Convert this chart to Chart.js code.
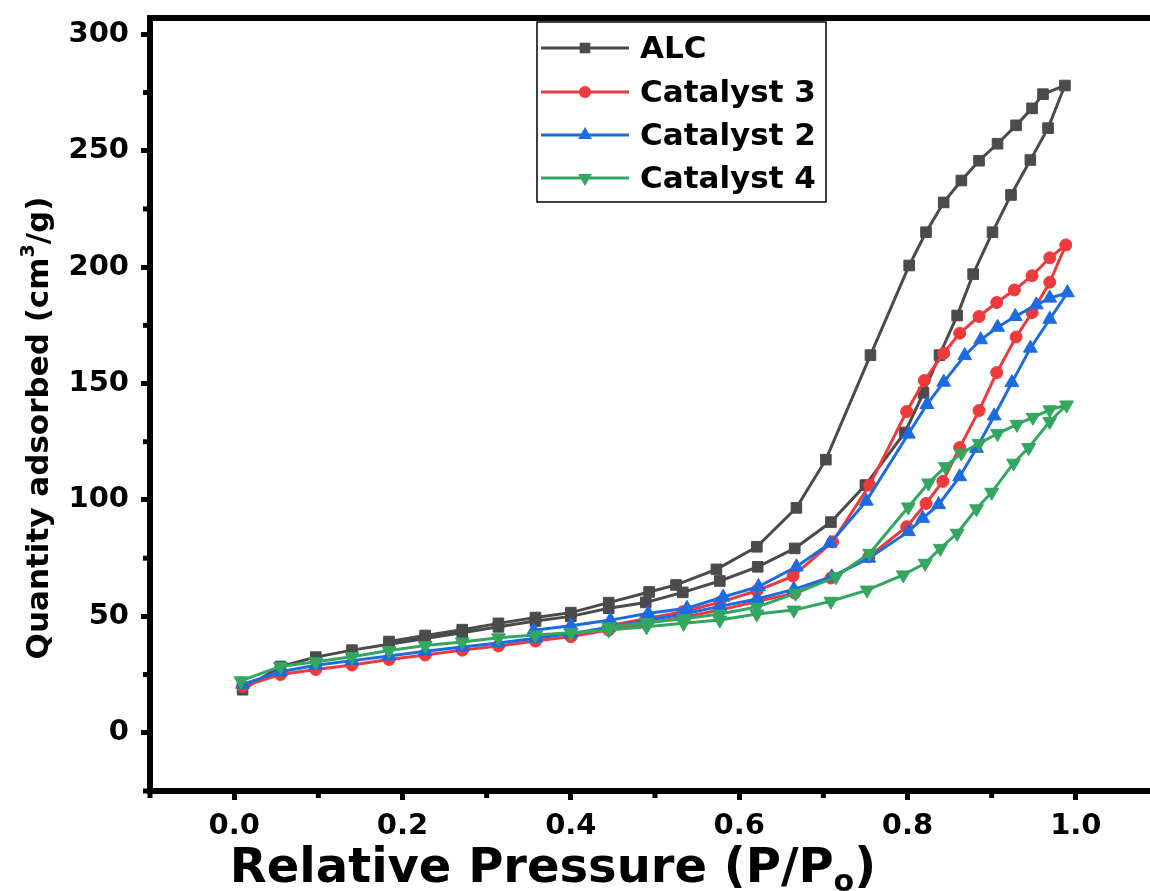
<!DOCTYPE html>
<html>
<head>
<meta charset="utf-8">
<script src="https://cdn.jsdelivr.net/npm/chart.js"></script>
<style>
html, body { margin: 0; padding: 0; background: #fff; overflow: hidden; }
#wrap { width: 1180px; height: 891px; }
</style>
</head>
<body>
<div id="wrap"><canvas id="isoChart" width="1180" height="891"></canvas></div>
<script>
// relative pressure (P/Po) and quantity adsorbed (cm3/g), adsorption then desorption
var alcP = [0.010, 0.055, 0.097, 0.140, 0.184, 0.227, 0.271, 0.314, 0.358, 0.400, 0.445, 0.489, 0.533, 0.577, 0.622, 0.666, 0.709, 0.750, 0.797, 0.819, 0.838, 0.859, 0.878, 0.901, 0.923, 0.946, 0.967, 0.987,
            0.961, 0.948, 0.929, 0.907, 0.885, 0.864, 0.843, 0.822, 0.802, 0.756, 0.703, 0.668, 0.621, 0.573, 0.525, 0.493, 0.445, 0.400, 0.358, 0.314, 0.271, 0.227, 0.184];
var alcQ = [18.5, 28.5, 32.5, 35.5, 38.0, 40.5, 43.0, 45.5, 48.0, 50.0, 53.5, 56.0, 60.3, 65.2, 71.3, 79.2, 90.5, 106.4, 129.0, 146.0, 162.2, 179.2, 197.0, 215.0, 231.0, 246.0, 259.7, 278.0,
            274.3, 268.2, 260.9, 253.0, 245.7, 237.2, 227.8, 215.0, 200.7, 162.2, 117.3, 96.6, 79.9, 70.2, 63.5, 60.5, 55.9, 51.6, 49.5, 47.0, 44.3, 41.8, 39.2];

var cat3P = [0.010, 0.055, 0.097, 0.140, 0.184, 0.227, 0.271, 0.314, 0.358, 0.400, 0.445, 0.489, 0.533, 0.577, 0.622, 0.666, 0.709, 0.754, 0.799, 0.822, 0.842, 0.862, 0.885, 0.906, 0.929, 0.948, 0.969, 0.988,
             0.969, 0.948, 0.927, 0.906, 0.885, 0.862, 0.843, 0.820, 0.799, 0.755, 0.711, 0.664, 0.621, 0.577, 0.533, 0.489, 0.445];
var cat3Q = [20.0, 25.0, 27.2, 29.1, 31.5, 33.4, 35.5, 37.3, 39.4, 41.3, 44.1, 47.0, 49.6, 52.7, 56.5, 60.0, 66.5, 75.6, 88.5, 98.5, 108.0, 122.5, 138.4, 154.7, 170.0, 180.5, 193.5, 209.5,
             204.0, 196.3, 190.2, 184.8, 178.8, 171.6, 163.0, 151.3, 138.0, 106.4, 82.0, 67.3, 61.0, 56.0, 52.0, 49.0, 46.0];

var cat2P = [0.010, 0.055, 0.097, 0.140, 0.184, 0.227, 0.271, 0.314, 0.358, 0.400, 0.445, 0.489, 0.534, 0.577, 0.621, 0.665, 0.710, 0.754, 0.801, 0.818, 0.837, 0.862, 0.882, 0.903, 0.924, 0.946, 0.969, 0.990,
             0.969, 0.953, 0.928, 0.907, 0.887, 0.868, 0.843, 0.823, 0.801, 0.751, 0.708, 0.668, 0.623, 0.581, 0.538, 0.492, 0.447, 0.400, 0.356];
var cat2Q = [20.8, 26.2, 29.0, 31.0, 33.0, 35.0, 36.8, 38.6, 40.6, 42.6, 45.3, 48.2, 51.0, 54.3, 57.5, 61.6, 67.0, 75.0, 86.4, 92.1, 98.0, 110.0, 122.2, 136.1, 150.4, 165.2, 177.6, 189.0,
             186.7, 183.8, 178.8, 174.2, 168.8, 162.0, 150.6, 141.0, 128.3, 99.5, 81.4, 71.3, 62.8, 58.3, 53.5, 51.3, 48.4, 46.0, 44.0];

var cat4P = [0.008, 0.055, 0.097, 0.140, 0.184, 0.227, 0.271, 0.314, 0.358, 0.400, 0.445, 0.490, 0.534, 0.577, 0.621, 0.665, 0.709, 0.752, 0.795, 0.821, 0.839, 0.859, 0.882, 0.900, 0.926, 0.944, 0.969, 0.989,
             0.969, 0.949, 0.930, 0.907, 0.885, 0.864, 0.845, 0.825, 0.801, 0.755, 0.715, 0.667, 0.621, 0.577, 0.534, 0.490, 0.445];
var cat4Q = [22.3, 28.5, 30.5, 32.7, 35.3, 37.5, 39.0, 40.8, 42.0, 43.0, 44.1, 45.5, 47.0, 48.4, 51.0, 52.7, 56.5, 61.3, 67.8, 72.8, 79.2, 85.7, 96.2, 103.3, 115.8, 122.5, 133.7, 140.8,
             138.7, 135.5, 132.5, 128.5, 124.3, 120.1, 114.3, 107.3, 97.0, 77.1, 67.0, 59.9, 54.0, 51.0, 49.0, 47.3, 45.5];

var xTicks = [0.0, 0.2, 0.4, 0.6, 0.8, 1.0];
var yTicks = [0, 50, 100, 150, 200, 250, 300];
var xMinor = [-0.1, 0.1, 0.3, 0.5, 0.7, 0.9];
var yMinor = [-25, 25, 75, 125, 175, 225, 275];

var FONT = '"DejaVu Sans", "Liberation Sans", Arial, sans-serif';

function pts(xs, ys) {
    return xs.map(function(x, i) { return { x: x, y: ys[i] }; });
}

function series(label, xs, ys, color, style, radius, rotation, order) {
    return {
        label: label,
        data: pts(xs, ys),
        borderColor: color,
        backgroundColor: color,
        borderWidth: 3,
        pointStyle: style,
        pointRadius: radius,
        pointHoverRadius: radius,
        pointRotation: rotation,
        pointBackgroundColor: color,
        pointBorderColor: color,
        pointBorderWidth: 1,
        tension: 0,
        order: order
    };
}

// marker used in the legend box
function drawMarker(ctx, style, x, y, r, rot, color) {
    ctx.fillStyle = color;
    ctx.beginPath();
    if (style === 'rect') {
        var s = r * Math.SQRT1_2;
        ctx.rect(x - s, y - s, 2 * s, 2 * s);
    } else if (style === 'circle') {
        ctx.arc(x, y, r, 0, Math.PI * 2);
    } else {
        var a = rot * Math.PI / 180;
        for (var k = 0; k < 3; k++) {
            var ang = a + k * 2 * Math.PI / 3;
            var px = x + Math.sin(ang) * r, py = y - Math.cos(ang) * r;
            if (k === 0) ctx.moveTo(px, py); else ctx.lineTo(px, py);
        }
        ctx.closePath();
    }
    ctx.fill();
}

var framePlugin = {
    id: 'frame',
    afterDraw: function(chart) {
        var ctx = chart.ctx, area = chart.chartArea;
        var xs = chart.scales.x, ys = chart.scales.y;
        ctx.save();
        ctx.strokeStyle = '#000';
        // top border
        ctx.lineWidth = 6;
        ctx.beginPath();
        ctx.moveTo(area.left - 3, area.top);
        ctx.lineTo(area.right + 3, area.top);
        ctx.stroke();
        // minor ticks
        ctx.lineWidth = 5;
        yMinor.forEach(function(v) {
            var py = ys.getPixelForValue(v);
            ctx.beginPath();
            ctx.moveTo(area.left - 3, py);
            ctx.lineTo(area.left - 7, py);
            ctx.stroke();
        });
        xMinor.forEach(function(v) {
            var px = xs.getPixelForValue(v);
            ctx.beginPath();
            ctx.moveTo(px, area.bottom + 3);
            ctx.lineTo(px, area.bottom + 7);
            ctx.stroke();
        });

        // axis titles
        ctx.fillStyle = '#000';
        ctx.textBaseline = 'alphabetic';
        ctx.textAlign = 'left';
        var big = 'bold 48px ' + FONT, small = 'bold 30px ' + FONT;
        var t1 = 'Relative Pressure (P/P', t2 = 'o', t3 = ')';
        ctx.font = big;
        var w1 = ctx.measureText(t1).width, w3 = ctx.measureText(t3).width;
        ctx.font = small;
        var w2 = ctx.measureText(t2).width;
        var sx = 553 - (w1 + w2 + w3) / 2, by = 882;
        ctx.font = big; ctx.fillText(t1, sx, by);
        ctx.font = small; ctx.fillText(t2, sx + w1, by + 9);
        ctx.font = big; ctx.fillText(t3, sx + w1 + w2, by);

        ctx.save();
        ctx.translate(48, 428);
        ctx.rotate(-Math.PI / 2);
        var yb = 'bold 31px ' + FONT, ysm = 'bold 19px ' + FONT;
        var a1 = 'Quantity adsorbed (cm', a2 = '3', a3 = '/g)';
        ctx.font = yb;
        var v1 = ctx.measureText(a1).width, v3 = ctx.measureText(a3).width;
        ctx.font = ysm;
        var v2 = ctx.measureText(a2).width;
        var st = -(v1 + v2 + v3) / 2;
        ctx.font = yb; ctx.fillText(a1, st, 0);
        ctx.font = ysm; ctx.fillText(a2, st + v1, -14);
        ctx.font = yb; ctx.fillText(a3, st + v1 + v2, 0);
        ctx.restore();

        // legend box
        ctx.fillStyle = '#fff';
        ctx.fillRect(537, 22, 289, 180);
        ctx.lineWidth = 1.5;
        ctx.strokeStyle = '#000';
        ctx.strokeRect(537, 22, 289, 180);
        var rows = [48, 92, 135, 178];
        ctx.font = 'bold 31px ' + FONT;
        ctx.textBaseline = 'middle';
        chart.data.datasets.forEach(function(ds, i) {
            var yy = rows[i];
            ctx.strokeStyle = ds.borderColor;
            ctx.lineWidth = 3;
            ctx.beginPath();
            ctx.moveTo(541, yy);
            ctx.lineTo(629, yy);
            ctx.stroke();
            drawMarker(ctx, ds.pointStyle, 585, yy, ds.pointRadius, ds.pointRotation, ds.borderColor);
            ctx.fillStyle = '#000';
            ctx.fillText(ds.label, 640, yy + 2);
        });
        ctx.restore();
    }
};

var chart = new Chart(document.getElementById('isoChart').getContext('2d'), {
    type: 'line',
    data: {
        datasets: [
            series('ALC', alcP, alcQ, '#4b4b4b', 'rect', 7.5, 0, 4),
            series('Catalyst 3', cat3P, cat3Q, '#ee3a3c', 'circle', 6, 0, 3),
            series('Catalyst 2', cat2P, cat2Q, '#1d6be0', 'triangle', 8, 0, 2),
            series('Catalyst 4', cat4P, cat4Q, '#33a660', 'triangle', 8, 180, 1)
        ]
    },
    options: {
        responsive: false,
        animation: false,
        devicePixelRatio: 1,
        layout: { padding: { top: 18, right: 20, bottom: 0, left: 0 } },
        plugins: {
            legend: { display: false },
            tooltip: { enabled: false }
        },
        scales: {
            x: {
                type: 'linear',
                min: -0.1,
                max: 1.1,
                afterBuildTicks: function(scale) {
                    scale.ticks = xTicks.map(function(v) { return { value: v }; });
                },
                afterFit: function(scale) {
                    scale.height = 100;
                    scale.paddingLeft = 0;
                    scale.paddingRight = 0;
                },
                border: { display: true, color: '#000', width: 6 },
                grid: { display: true, drawOnChartArea: false, drawTicks: true, tickLength: 9, tickWidth: 5, tickColor: '#000' },
                ticks: {
                    autoSkip: false,
                    maxRotation: 0,
                    padding: 9,
                    color: '#000',
                    font: { family: FONT, size: 29, weight: 'bold' },
                    callback: function(v) { return v.toFixed(1); }
                }
            },
            y: {
                type: 'linear',
                min: -25,
                max: 307,
                afterBuildTicks: function(scale) {
                    scale.ticks = yTicks.map(function(v) { return { value: v }; });
                },
                afterFit: function(scale) {
                    scale.width = 150;
                    scale.paddingTop = 0;
                    scale.paddingBottom = 0;
                },
                border: { display: true, color: '#000', width: 6 },
                grid: { display: true, drawOnChartArea: false, drawTicks: true, tickLength: 9, tickWidth: 5, tickColor: '#000' },
                ticks: {
                    autoSkip: false,
                    padding: 12,
                    color: '#000',
                    font: { family: FONT, size: 29, weight: 'bold' },
                    callback: function(v) { return String(v); }
                }
            }
        }
    },
    plugins: [framePlugin]
});
</script>
</body>
</html>
